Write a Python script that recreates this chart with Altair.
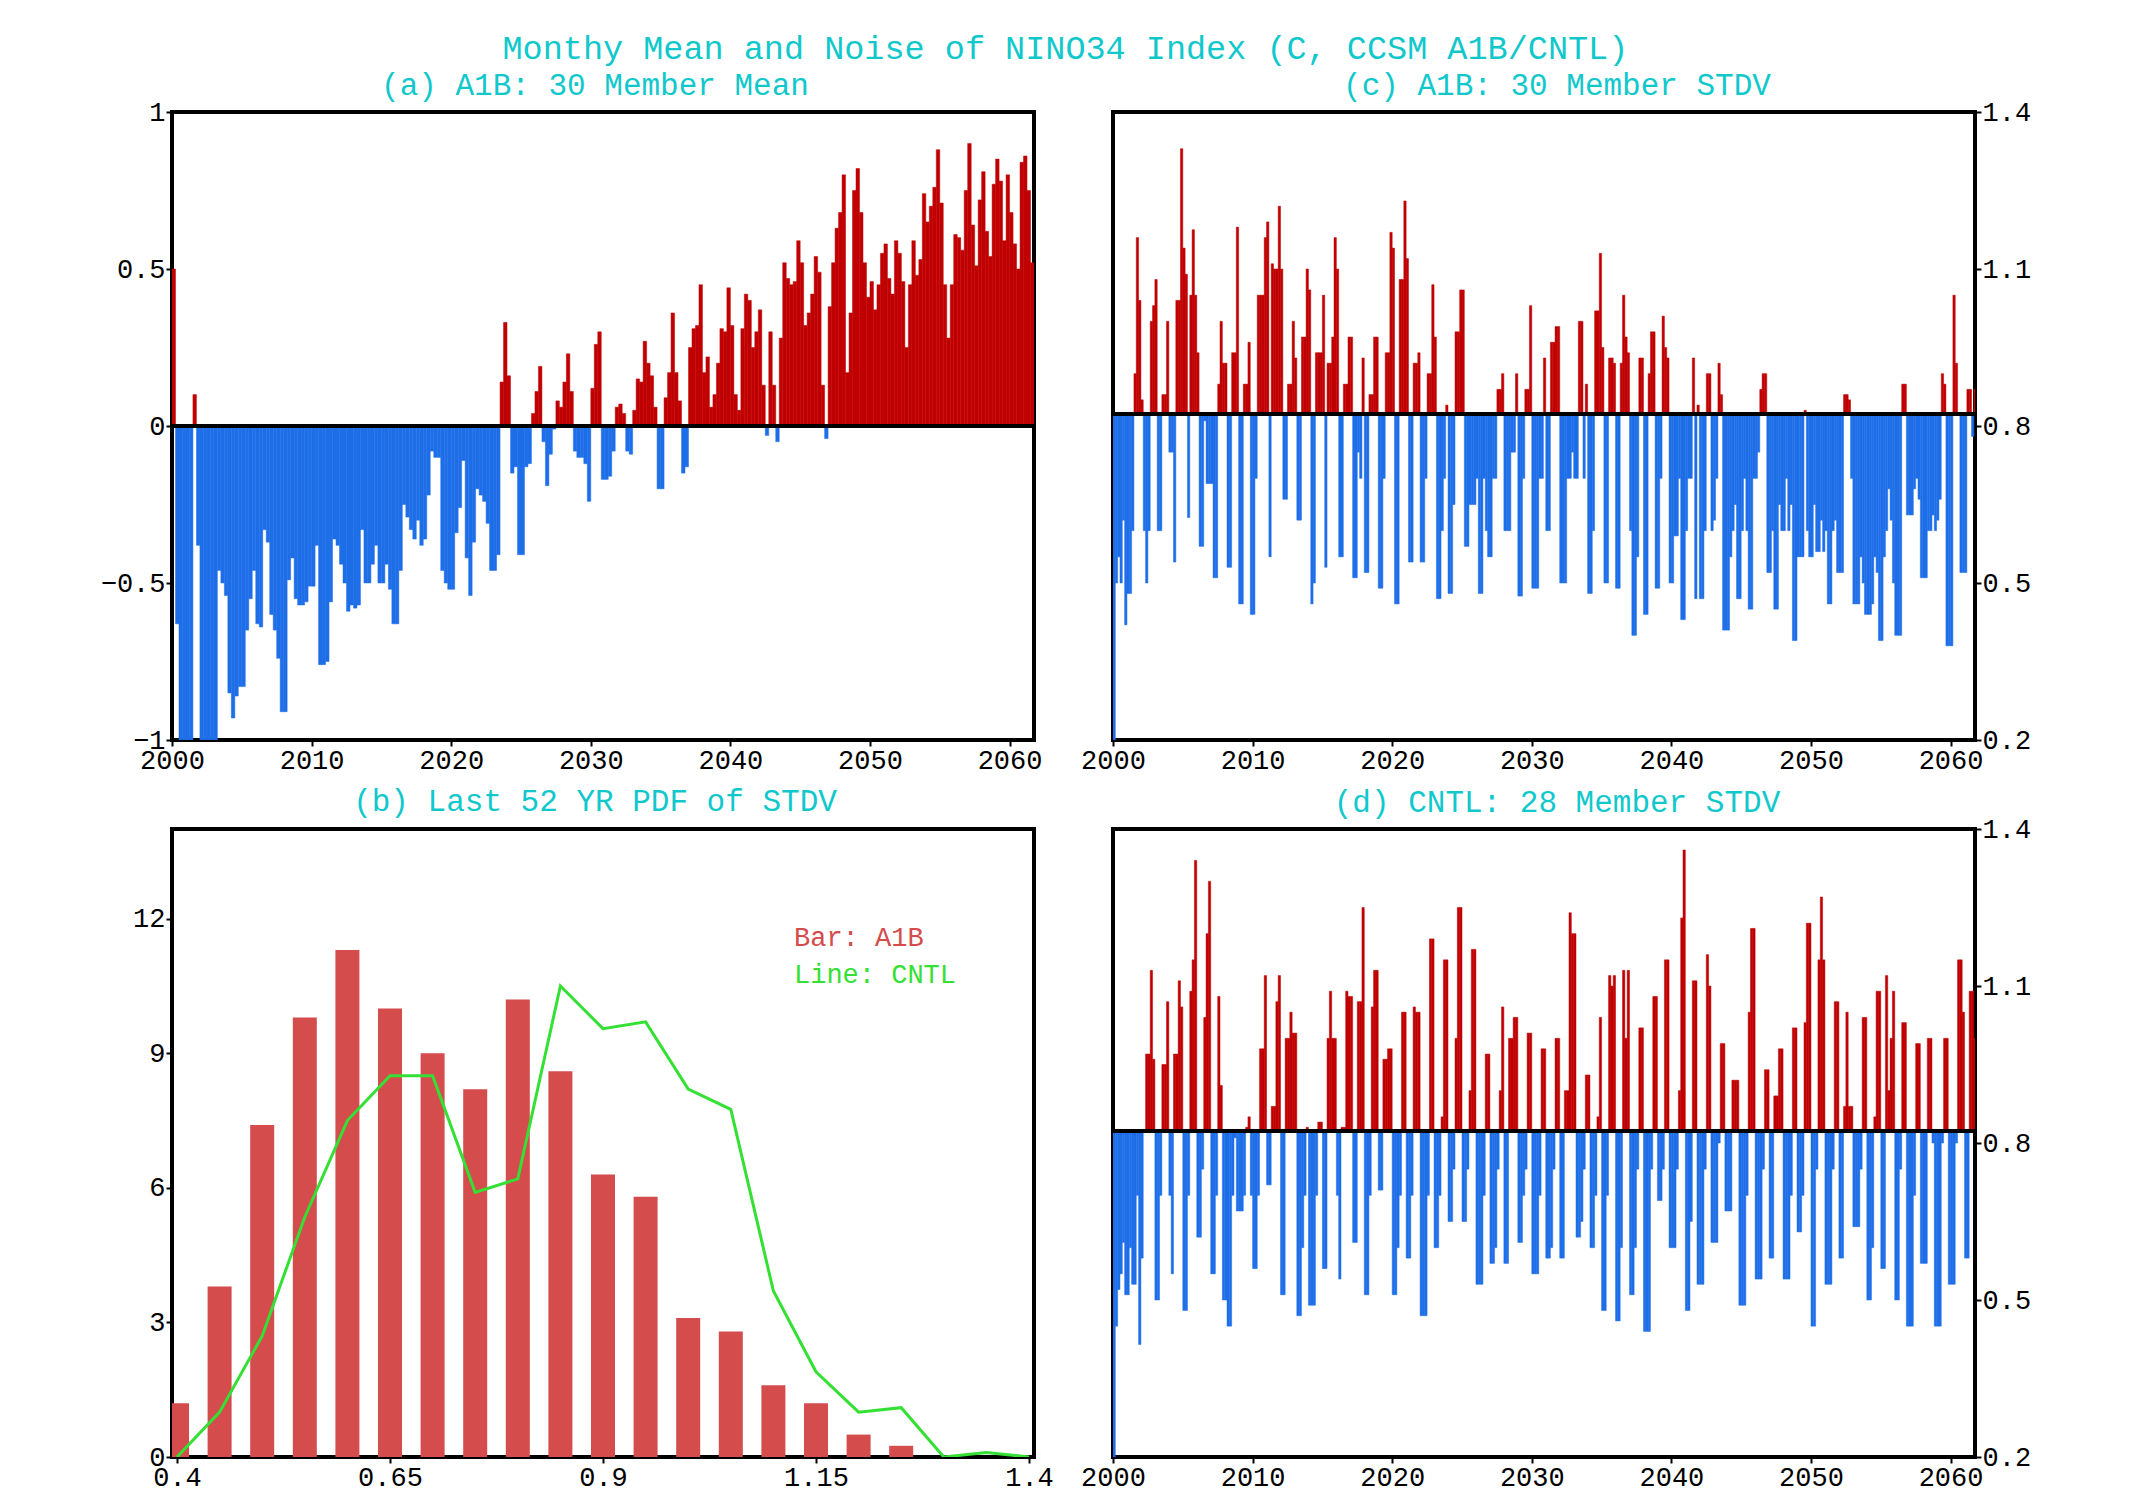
import altair as alt
import pandas as pd

# ---------------- data: (a) A1B 30-member mean, quarterly ----------------
mean_2000s = [0.5, -0.63, -1.05, -1.05, -1.05, -1.05, 0.1, -0.38, -1.05, -1.05, -1.05, -1.05,
              -1.05, -0.46, -0.5, -0.54, -0.85, -0.93, -0.86, -0.83, -0.83, -0.65, -0.55, -0.46,
              -0.63, -0.64, -0.33, -0.37, -0.6, -0.65, -0.74, -0.91, -0.91, -0.49, -0.42, -0.55,
              -0.57, -0.57, -0.56, -0.51]
mean_2010s = [-0.51, -0.38, -0.76, -0.76, -0.75, -0.56, -0.36, -0.38, -0.44, -0.5, -0.59, -0.57,
              -0.58, -0.57, -0.33, -0.5, -0.5, -0.44, -0.38, -0.5, -0.5, -0.44, -0.52, -0.63,
              -0.63, -0.46, -0.25, -0.29, -0.33, -0.36, -0.3, -0.38, -0.36, -0.22, -0.08, -0.1,
              -0.1, -0.46, -0.5, -0.52]
mean_2020s = [-0.52, -0.34, -0.26, -0.11, -0.42, -0.54, -0.37, -0.2, -0.22, -0.24, -0.31, -0.46,
              -0.46, -0.41, 0.14, 0.33, 0.16, -0.15, -0.13, -0.41, -0.41, -0.13, -0.12, 0.04,
              0.11, 0.19, -0.05, -0.19, -0.09, -0.01, 0.08, 0.06, 0.14, 0.23, 0.11, -0.08,
              -0.1, -0.1, -0.12, -0.24]
mean_2030s = [0.12, 0.26, 0.3, -0.17, -0.17, -0.16, -0.08, 0.06, 0.07, 0.04, -0.08, -0.09,
              0.05, 0.15, 0.14, 0.27, 0.2, 0.16, 0.06, -0.2, -0.2, 0.09, 0.17, 0.36,
              0.17, 0.08, -0.15, -0.13, 0.25, 0.31, 0.32, 0.45, 0.17, 0.22, 0.06, 0.1,
              0.2, 0.31, 0.3, 0.44]
mean_2040s = [0.32, 0.1, 0.05, 0.31, 0.42, 0.4, 0.25, 0.3, 0.37, 0.13, -0.03, 0.3,
              0.13, -0.05, 0.28, 0.52, 0.47, 0.45, 0.46, 0.59, 0.52, 0.32, 0.36, 0.42,
              0.54, 0.49, 0.13, -0.04, 0.38, 0.52, 0.63, 0.68, 0.8, 0.17, 0.36, 0.75,
              0.82, 0.68, 0.52, 0.41]
mean_2050s = [0.46, 0.37, 0.45, 0.55, 0.58, 0.47, 0.42, 0.59, 0.55, 0.46, 0.25, 0.45,
              0.59, 0.48, 0.53, 0.74, 0.65, 0.7, 0.76, 0.88, 0.71, 0.45, 0.28, 0.45,
              0.61, 0.6, 0.56, 0.75, 0.9, 0.64, 0.51, 0.72, 0.81, 0.62, 0.54, 0.77,
              0.85, 0.78, 0.59, 0.8]
mean_2060s = [0.68, 0.58, 0.5, 0.84, 0.86, 0.75, 0.52]

# ---------------- data: (c) A1B 30-member STDV, bi-monthly ----------------
a1b_sd_2000s = [0.2, 0.5, 0.55, 0.5, 0.62, 0.42, 0.48, 0.48, 0.6, 0.9, 1.16, 1.04,
                0.85, 0.6, 0.5, 0.6, 1.0, 1.03, 1.08, 0.6, 0.6, 0.86, 0.86, 1.0,
                0.75, 0.75, 0.54, 1.04, 1.04, 1.33, 1.14, 1.09, 0.625, 1.05, 1.175, 1.05,
                0.94, 0.57, 0.57, 0.81, 0.69, 0.69, 0.69, 0.51, 0.51, 0.88, 1.0, 0.92,
                0.92, 0.53, 0.53, 0.94, 0.94, 1.18, 0.46, 0.46, 0.88, 0.88, 0.96, 0.44]
a1b_sd_2010s = [0.44, 0.7, 1.05, 1.05, 1.05, 1.16, 1.19, 0.55, 1.11, 1.1, 1.1, 1.22,
                1.1, 0.66, 0.66, 0.88, 0.88, 1.0, 0.93, 0.62, 0.62, 0.97, 0.97, 1.1,
                1.06, 0.46, 0.5, 0.94, 0.94, 0.94, 1.05, 0.53, 0.92, 0.92, 0.97, 1.16,
                1.1, 0.55, 0.55, 0.88, 0.88, 0.97, 0.97, 0.51, 0.51, 0.75, 0.7, 0.93,
                0.52, 0.52, 0.86, 0.86, 0.97, 0.97, 0.49, 0.49, 0.7, 0.94, 0.94, 1.17]
a1b_sd_2020s = [1.14, 0.46, 0.46, 1.08, 1.08, 1.23, 1.12, 0.54, 0.54, 0.92, 0.92, 0.94,
                0.54, 0.54, 0.7, 0.9, 0.9, 1.07, 0.97, 0.47, 0.47, 0.6, 0.7, 0.84,
                0.48, 0.48, 0.65, 0.98, 0.98, 1.06, 1.06, 0.57, 0.57, 0.65, 0.65, 0.65,
                0.7, 0.48, 0.48, 0.7, 0.6, 0.55, 0.55, 0.7, 0.7, 0.87, 0.87, 0.9,
                0.6, 0.6, 0.6, 0.75, 0.75, 0.9, 0.475, 0.475, 0.7, 0.87, 0.87, 1.03]
a1b_sd_2030s = [0.49, 0.49, 0.49, 0.7, 0.7, 0.93, 0.6, 0.6, 0.96, 0.96, 0.99, 0.99,
                0.5, 0.5, 0.5, 0.7, 0.7, 0.75, 0.7, 0.7, 1.0, 1.0, 0.7, 0.88,
                0.48, 0.48, 0.6, 1.02, 1.02, 1.13, 0.95, 0.5, 0.5, 0.93, 0.93, 0.92,
                0.49, 0.49, 0.92, 1.05, 0.97, 0.94, 0.6, 0.4, 0.4, 0.55, 0.93, 0.93,
                0.44, 0.44, 0.9, 0.98, 0.98, 0.49, 0.49, 0.7, 1.01, 0.95, 0.93, 0.5]
a1b_sd_2040s = [0.5, 0.59, 0.59, 0.7, 0.43, 0.43, 0.6, 0.7, 0.7, 0.93, 0.47, 0.84,
                0.47, 0.47, 0.6, 0.9, 0.9, 0.6, 0.62, 0.7, 0.92, 0.86, 0.41, 0.41,
                0.41, 0.55, 0.6, 0.65, 0.47, 0.47, 0.6, 0.7, 0.6, 0.45, 0.45, 0.7,
                0.7, 0.75, 0.87, 0.9, 0.9, 0.52, 0.52, 0.6, 0.45, 0.45, 0.65, 0.6,
                0.6, 0.7, 0.6, 0.65, 0.39, 0.39, 0.55, 0.55, 0.55, 0.83, 0.6, 0.55]
a1b_sd_2050s = [0.55, 0.65, 0.56, 0.56, 0.62, 0.56, 0.6, 0.46, 0.46, 0.6, 0.62, 0.52,
                0.52, 0.52, 0.86, 0.86, 0.85, 0.7, 0.46, 0.46, 0.46, 0.55, 0.5, 0.44,
                0.44, 0.44, 0.46, 0.55, 0.52, 0.39, 0.39, 0.55, 0.6, 0.68, 0.62, 0.5,
                0.4, 0.4, 0.4, 0.88, 0.88, 0.63, 0.63, 0.63, 0.68, 0.7, 0.66, 0.51,
                0.51, 0.51, 0.6, 0.6, 0.63, 0.6, 0.62, 0.66, 0.9, 0.88, 0.38, 0.38]
a1b_sd_2060s = [0.38, 1.05, 0.92, 0.82, 0.52, 0.52, 0.52, 0.87, 0.87, 0.78, 0.87]

# ---------------- data: (d) CNTL 28-member STDV, bi-monthly ----------------
cntl_sd_2000s = [0.2, 0.45, 0.52, 0.55, 0.61, 0.51, 0.51, 0.6, 0.53, 0.53, 0.7, 0.415,
                 0.58, 0.82, 0.97, 0.97, 1.13, 0.96, 0.5, 0.5, 0.7, 0.95, 0.95, 1.07,
                 0.7, 0.55, 0.97, 0.97, 1.11, 1.06, 0.48, 0.48, 0.7, 1.09, 1.15, 1.34,
                 0.62, 0.62, 0.75, 1.04, 1.2, 1.3, 0.55, 0.55, 0.7, 1.08, 0.91, 0.5,
                 0.5, 0.45, 0.45, 0.7, 0.81, 0.67, 0.67, 0.67, 0.7, 0.83, 0.85, 0.7]
cntl_sd_2010s = [0.56, 0.56, 0.7, 0.98, 0.98, 1.12, 0.72, 0.72, 0.87, 0.87, 1.07, 1.12,
                 0.51, 0.51, 1.0, 1.0, 1.05, 1.01, 1.01, 0.47, 0.47, 0.6, 0.7, 0.83,
                 0.49, 0.49, 0.49, 0.7, 0.84, 0.84, 0.56, 0.56, 1.0, 1.09, 1.0, 1.0,
                 0.7, 0.54, 0.83, 0.83, 1.09, 1.08, 1.08, 0.61, 0.61, 1.07, 1.07, 1.25,
                 0.51, 0.51, 0.7, 1.06, 1.13, 1.13, 0.71, 0.71, 0.96, 0.96, 0.98, 0.98]
cntl_sd_2020s = [0.51, 0.51, 0.6, 0.7, 1.05, 1.05, 0.58, 0.58, 0.7, 1.06, 1.05, 1.05,
                 0.47, 0.47, 0.47, 0.7, 1.19, 1.19, 0.6, 0.6, 0.7, 0.85, 1.15, 1.15,
                 0.65, 0.65, 0.75, 1.0, 1.25, 1.25, 0.65, 0.65, 0.75, 0.9, 1.17, 1.17,
                 0.53, 0.53, 0.53, 0.7, 0.97, 0.97, 0.57, 0.57, 0.6, 0.75, 0.9, 1.06,
                 0.57, 0.57, 1.0, 1.0, 1.04, 1.04, 0.61, 0.61, 0.7, 0.75, 1.01, 1.01]
cntl_sd_2030s = [0.55, 0.55, 0.55, 0.7, 0.98, 0.98, 0.58, 0.58, 0.6, 0.75, 1.0, 1.0,
                 0.58, 0.58, 0.9, 0.9, 1.24, 1.2, 1.2, 0.62, 0.62, 0.65, 0.75, 0.93,
                 0.93, 0.6, 0.6, 0.7, 0.85, 1.04, 0.48, 0.48, 0.7, 1.12, 1.1, 1.12,
                 0.46, 0.46, 0.6, 1.13, 1.0, 1.13, 0.51, 0.51, 0.6, 0.75, 1.02, 1.02,
                 0.44, 0.44, 0.44, 0.75, 1.08, 1.08, 0.69, 0.69, 0.75, 1.15, 1.15, 0.6]
cntl_sd_2040s = [0.6, 0.6, 0.75, 0.9, 1.23, 1.36, 0.48, 0.48, 0.65, 1.11, 1.11, 0.53,
                 0.53, 0.53, 0.75, 1.16, 1.1, 0.61, 0.61, 0.61, 0.8, 0.99, 0.99, 0.67,
                 0.67, 0.67, 0.92, 0.92, 0.92, 0.49, 0.49, 0.49, 0.7, 1.05, 1.21, 1.21,
                 0.54, 0.54, 0.54, 0.75, 0.94, 0.94, 0.58, 0.58, 0.89, 0.89, 0.98, 0.98,
                 0.54, 0.54, 0.54, 0.7, 1.02, 1.02, 0.63, 0.63, 0.7, 1.03, 1.22, 1.22]
cntl_sd_2050s = [0.45, 0.45, 0.75, 1.15, 1.27, 1.15, 0.53, 0.53, 0.53, 0.75, 1.07, 1.07,
                 0.58, 0.58, 0.87, 1.05, 0.87, 0.87, 0.64, 0.64, 0.64, 0.75, 1.04, 1.04,
                 0.5, 0.5, 0.6, 0.85, 1.09, 1.09, 0.56, 0.56, 1.12, 0.9, 1.0, 1.09,
                 0.5, 0.5, 0.75, 1.03, 1.03, 0.45, 0.45, 0.45, 0.7, 0.99, 0.99, 0.57,
                 0.57, 0.57, 1.0, 1.0, 0.8, 0.45, 0.45, 0.45, 0.8, 1.0, 1.0, 0.53]
cntl_sd_2060s = [0.53, 0.53, 0.8, 1.15, 1.15, 1.05, 0.58, 0.58, 1.09, 1.09, 1.0]

# ---------------- data: (b) PDF of STDV, last 52 years ----------------
pdf_bins = [0.40, 0.45, 0.50, 0.55, 0.60, 0.65, 0.70, 0.75, 0.80, 0.85, 0.90, 0.95,
            1.00, 1.05, 1.10, 1.15, 1.20, 1.25]
pdf_a1b = [1.2, 3.8, 7.4, 9.8, 11.3, 10.0, 9.0, 8.2, 10.2, 8.6, 6.3, 5.8,
           3.1, 2.8, 1.6, 1.2, 0.5, 0.25]
cntl_x = [0.40, 0.45, 0.50, 0.55, 0.60, 0.65, 0.70, 0.75, 0.80, 0.85, 0.90, 0.95,
          1.00, 1.05, 1.10, 1.15, 1.20, 1.25, 1.30, 1.35, 1.40]
cntl_pdf = [0.0, 1.0, 2.7, 5.35, 7.5, 8.5, 8.5, 5.9, 6.2, 10.5, 9.55, 9.7,
            8.2, 7.75, 3.7, 1.9, 1.0, 1.1, 0.0, 0.1, 0.0]

year_ticks = [2000, 2010, 2020, 2030, 2040, 2050, 2060]
mean_ticks = [-1, -0.5, 0, 0.5, 1]
sd_ticks = [0.2, 0.5, 0.8, 1.1, 1.4]
pdf_xticks = [0.4, 0.65, 0.9, 1.15, 1.4]
pdf_yticks = [0, 3, 6, 9, 12]

# ---------------- styling ----------------
RED = "#c00000"
BLUE = "#1e6ee8"
PDF_RED = "#d44c4c"
GREEN = "#34e034"
CYAN = "#10c8cc"
FONT = "Liberation Mono"
W, H = 862, 628
SD_BASE = 0.823
X_END = 2061.75


def series_frame(vals, step, base):
    rows = []
    for i, v in enumerate(vals):
        t0 = 2000 + i * step
        rows.append({"t": t0, "t2": t0 + step, "v": v, "b": base,
                     "side": "pos" if v >= base else "neg"})
    return pd.DataFrame(rows)


def sub_title(text, dx, offset):
    return alt.TitleParams(text, font=FONT, fontSize=31, fontWeight="normal",
                           color=CYAN, anchor="middle", frame="group",
                           baseline="alphabetic", offset=offset, dx=dx)


def bar_panel(df, ydom, yticks, yfmt, yorient, title, dx, base):
    side_scale = alt.Scale(domain=["pos", "neg"], range=[RED, BLUE])
    yaxis = alt.Axis(values=yticks, format=yfmt, title=None, orient=yorient)
    yscale = alt.Scale(domain=ydom, nice=False, zero=False)
    bars = alt.Chart(df).mark_rect(clip=True, strokeWidth=0.5).encode(
        x=alt.X("t:Q", scale=alt.Scale(domain=[2000, X_END], nice=False, zero=False),
                axis=alt.Axis(values=year_ticks, format="d", title=None, labelFlush=False)),
        x2="t2:Q",
        y=alt.Y("v:Q", scale=yscale, axis=yaxis),
        y2="b:Q",
        color=alt.Color("side:N", scale=side_scale, legend=None),
        stroke=alt.Stroke("side:N", scale=side_scale, legend=None),
    )
    rule = alt.Chart(pd.DataFrame({"b": [base]})).mark_rule(
        color="black", strokeWidth=4).encode(y=alt.Y("b:Q", scale=yscale, axis=yaxis))
    return alt.layer(bars, rule).properties(width=W, height=H,
                                            title=sub_title(title, dx, -28))


mean_vals = mean_2000s + mean_2010s + mean_2020s + mean_2030s + mean_2040s + mean_2050s + mean_2060s
a1b_vals = a1b_sd_2000s + a1b_sd_2010s + a1b_sd_2020s + a1b_sd_2030s + a1b_sd_2040s + a1b_sd_2050s + a1b_sd_2060s
cntl_vals = cntl_sd_2000s + cntl_sd_2010s + cntl_sd_2020s + cntl_sd_2030s + cntl_sd_2040s + cntl_sd_2050s + cntl_sd_2060s

panel_a = bar_panel(series_frame(mean_vals, 0.25, 0.0), [-1, 1], mean_ticks, "~g", "left",
                    "(a) A1B: 30 Member Mean", -8, 0.0)
panel_c = bar_panel(series_frame(a1b_vals, 1 / 6, SD_BASE), [0.2, 1.4], sd_ticks, ".1f", "right",
                    "(c) A1B: 30 Member STDV", 13, SD_BASE)
panel_d = bar_panel(series_frame(cntl_vals, 1 / 6, SD_BASE), [0.2, 1.4], sd_ticks, ".1f", "right",
                    "(d) CNTL: 28 Member STDV", 13, SD_BASE)

# panel b
pdf_df = pd.DataFrame({"x": pdf_bins, "y": pdf_a1b})
line_df = pd.DataFrame({"x": cntl_x, "y": cntl_pdf})
xs = alt.Scale(domain=[0.4, 1.4], nice=False, zero=False)
ys = alt.Scale(domain=[0, 14], nice=False)
hist = alt.Chart(pdf_df).mark_bar(size=24, color=PDF_RED, clip=True).encode(
    x=alt.X("x:Q", scale=xs, axis=alt.Axis(values=pdf_xticks, format="~g", title=None, labelFlush=False)),
    y=alt.Y("y:Q", scale=ys, axis=alt.Axis(values=pdf_yticks, format="d", title=None)),
)
line = alt.Chart(line_df).mark_line(color=GREEN, strokeWidth=3, clip=True).encode(
    x=alt.X("x:Q", scale=xs), y=alt.Y("y:Q", scale=ys))
leg1 = alt.Chart(pd.DataFrame({"t": ["Bar: A1B"]})).mark_text(
    font=FONT, fontSize=27, color=PDF_RED, align="left", baseline="middle").encode(
    text="t:N", x=alt.value(622), y=alt.value(109))
leg2 = alt.Chart(pd.DataFrame({"t": ["Line: CNTL"]})).mark_text(
    font=FONT, fontSize=27, color=GREEN, align="left", baseline="middle").encode(
    text="t:N", x=alt.value(622), y=alt.value(146))
panel_b = alt.layer(hist, line, leg1, leg2).properties(
    width=W, height=H, title=sub_title("(b) Last 52 YR PDF of STDV", -8, -13))

chart = alt.concat(
    panel_a, panel_c, panel_b, panel_d, columns=2,
    spacing={"row": 89, "column": 79}, bounds="flush",
    title=alt.TitleParams("Monthy Mean and Noise of NINO34 Index (C, CCSM A1B/CNTL)",
                          font=FONT, fontSize=33.5, fontWeight="normal", color=CYAN,
                          anchor="middle", offset=2),
).properties(
    padding={"left": 90, "top": 23, "right": 10, "bottom": 5}
).configure_view(
    stroke="black", strokeWidth=4
).configure_axis(
    domain=False, grid=False, ticks=True, tickColor="black", tickSize=6, tickWidth=2,
    labelFont=FONT, labelFontSize=27, labelColor="black", labelPadding=1,
)

chart.save("out.html", embed_options={"renderer": "svg", "actions": False})
